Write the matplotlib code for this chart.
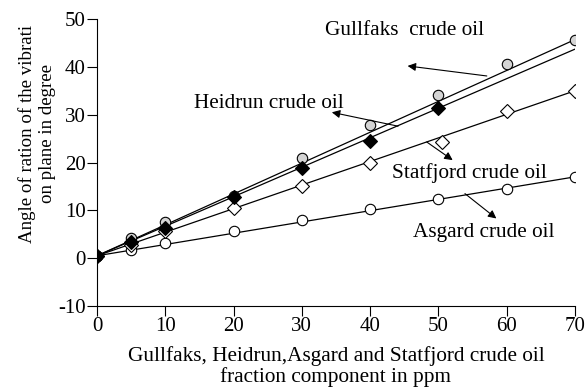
import matplotlib.pyplot as plt

plt.rcParams['font.family'] = ['Liberation Serif', 'DejaVu Serif']
plt.rcParams['axes.unicode_minus'] = False

### DATA ###
ppm = [0, 5, 10, 20, 30, 40, 50, 60, 70]
gullfaks = [0.5, 4.3, 7.6, 13.0, 20.9, 27.8, 34.1, 40.7, 45.7]
heidrun_x = [0, 5, 10, 20, 30, 40, 50]
heidrun = [0.5, 3.3, 6.3, 12.8, 18.8, 24.4, 31.5]
heidrun_end = 43.7  # trend line end at 70 ppm (no marker)
statfjord_x = [0, 5, 10, 20, 30, 40, 50.5, 60, 70]
statfjord = [0.5, 2.7, 5.6, 10.5, 15.1, 20.0, 24.3, 30.8, 35.0]
asgard = [0.5, 1.8, 3.1, 5.6, 7.9, 10.3, 12.3, 14.4, 17.0]

# label text, text position, arrow tail (on the line), arrow head
notes = [
    ("Gullfaks  crude oil", (33.4, 47.7), (57.1, 38.1), (45.5, 40.2)),
    ("Heidrun crude oil", (14.2, 32.3), (44.1, 27.6), (34.4, 30.5)),
    ("Statfjord crude oil", (43.2, 17.9), (48.3, 24.3), (52.1, 20.5)),
    ("Asgard crude oil", (46.3, 5.3), (53.9, 13.5), (58.5, 8.3)),
]

fig = plt.figure(figsize=(5.86, 3.89), dpi=100)
ax = fig.add_axes([0.1655, 0.2134, 0.8155, 0.7376])

lw = 0.9
ms = 7.5
fs = 15

# straight trend lines, first to last reading
ax.plot([ppm[0], ppm[-1]], [asgard[0], asgard[-1]], color='black', lw=lw, zorder=2)
ax.plot([statfjord_x[0], statfjord_x[-1]], [statfjord[0], statfjord[-1]], color='black', lw=lw, zorder=2)
ax.plot([ppm[0], ppm[-1]], [gullfaks[0], gullfaks[-1]], color='black', lw=lw, zorder=2)
ax.plot([heidrun_x[0], 70], [heidrun[0], heidrun_end], color='black', lw=lw, zorder=2)

# markers
ax.plot(ppm, asgard, ls='none', marker='o', ms=ms,
        mfc='white', mec='black', mew=0.8, zorder=3)
ax.plot(statfjord_x, statfjord, ls='none', marker='D', ms=ms - 0.7,
        mfc='white', mec='black', mew=0.8, zorder=3)
ax.plot(ppm, gullfaks, ls='none', marker='o', ms=ms,
        mfc='#d4d4d4', mec='black', mew=0.8, zorder=3)
ax.plot(heidrun_x, heidrun, ls='none', marker='D', ms=ms - 0.7,
        mfc='black', mec='black', mew=0.8, zorder=4)

for txt, tpos, tail, head in notes:
    ax.text(tpos[0], tpos[1], txt, fontsize=15.3, ha='left', va='center')
    ax.annotate('', xy=head, xytext=tail,
                arrowprops=dict(arrowstyle='-|>', color='black', lw=0.8,
                                mutation_scale=12, shrinkA=0, shrinkB=0))

ax.set_xlim(0, 70)
ax.set_ylim(-10, 50)
ax.set_xticks(range(0, 71, 10))
ax.set_yticks(range(-10, 51, 10))
ax.spines['top'].set_visible(False)
ax.spines['right'].set_visible(False)
ax.tick_params(direction='out', length=7, width=0.8, labelsize=fs, pad=1)
ax.set_xlabel("Gullfaks, Heidrun,Asgard and Statfjord crude oil\nfraction component in ppm",
              fontsize=15.3, linespacing=1.1, labelpad=7)
ax.set_ylabel("Angle of ration of the vibrati\non plane in degree",
              fontsize=13.6, linespacing=1.25)
ax.yaxis.set_label_coords(-0.085, 0.6)

plt.savefig("out.png", dpi=100)
